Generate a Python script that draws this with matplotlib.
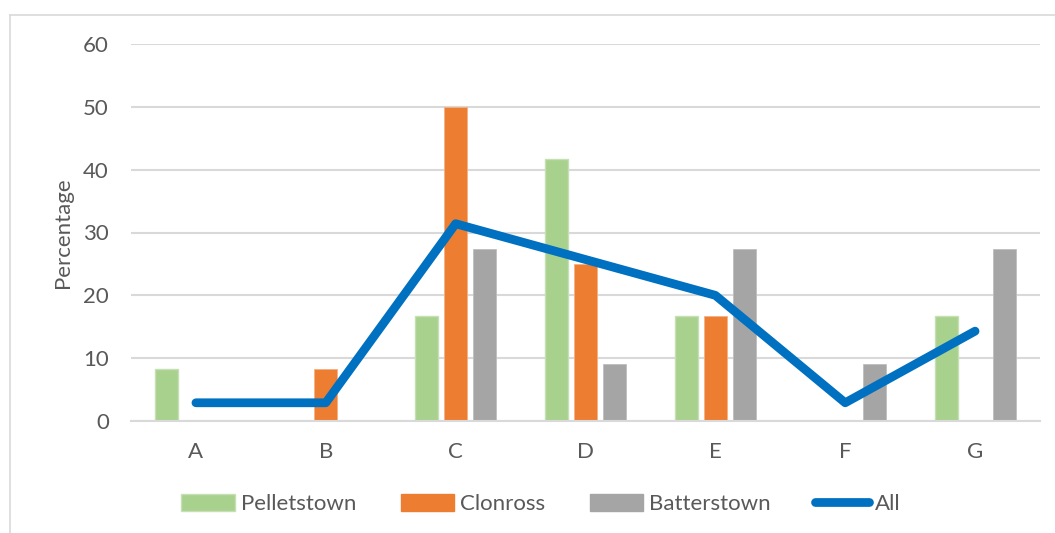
import matplotlib
matplotlib.use("Agg")
import matplotlib.pyplot as plt
import numpy as np
from matplotlib.patches import Patch
from matplotlib.lines import Line2D

categories = ["A", "B", "C", "D", "E", "F", "G"]
pelletstown = [8.3, 0, 16.7, 41.7, 16.7, 0, 16.7]
clonross = [0, 8.3, 50.0, 25.0, 16.7, 0, 0]
batterstown = [0, 0, 27.3, 9.1, 27.3, 9.1, 27.3]
all_sites = [2.9, 2.9, 31.4, 25.7, 20.0, 2.9, 14.3]
y_ticks = [0, 10, 20, 30, 40, 50, 60]

GREEN = "#A9D18E"
ORANGE = "#ED7D31"
GRAY = "#A5A5A5"
BLUE = "#0070C0"
TEXT = "#595959"
GRID = "#D9D9D9"

plt.rcParams["font.family"] = ["Lato", "DejaVu Sans"]

W, H = 1055, 533
fig = plt.figure(figsize=(W / 100, H / 100), dpi=100)
ax = fig.add_axes([131 / W, 112 / H, (1040 - 131) / W, (421 - 44) / H])

x = np.arange(len(categories))
step = 0.223
width = 0.177
ax.bar(x - step, pelletstown, width, color=GREEN, edgecolor="#C5E0B4", linewidth=1, zorder=2)
ax.bar(x, clonross, width, color=ORANGE, edgecolor="#F4B183", linewidth=0.6, zorder=2)
ax.bar(x + step, batterstown, width, color=GRAY, edgecolor="#BFBFBF", linewidth=0.6, zorder=2)
ax.plot(x, all_sites, color=BLUE, lw=6.3, solid_capstyle="round", solid_joinstyle="round", zorder=3)

ax.set_xlim(-0.5, len(categories) - 0.5)
ax.set_ylim(0, 60)
ax.set_yticks(y_ticks)
ax.set_xticks(x)
ax.set_xticklabels(categories)
ax.yaxis.grid(True, color=GRID, lw=1.5, zorder=0)
ax.set_axisbelow(True)
for s in ["top", "right", "left"]:
    ax.spines[s].set_visible(False)
ax.spines["bottom"].set_color(GRID)
ax.spines["bottom"].set_linewidth(1.5)
ax.tick_params(axis="both", length=0, colors=TEXT, labelsize=16)
ax.tick_params(axis="y", pad=16)
ax.tick_params(axis="x", pad=15)
ax.set_ylabel("Percentage", color=TEXT, fontsize=16, labelpad=7)

handles = [
    Patch(facecolor=GREEN, edgecolor="#C5E0B4", label="Pelletstown"),
    Patch(facecolor=ORANGE, edgecolor=ORANGE, label="Clonross"),
    Patch(facecolor=GRAY, edgecolor=GRAY, label="Batterstown"),
    Line2D([0], [0], color=BLUE, lw=6.3, solid_capstyle="round", label="All"),
]
leg = fig.legend(handles=handles, loc="center", bbox_to_anchor=(541 / W, 1 - 504 / H),
                 ncol=4, frameon=False, fontsize=16, handlelength=2.4, handleheight=0.8,
                 handletextpad=0.28, columnspacing=2.0)
for t in leg.get_texts():
    t.set_color(TEXT)

# light frame around the chart area
fig.add_artist(Line2D([10 / W, 10 / W], [0, 1 - 15 / H], color=GRID, lw=1.2))
fig.add_artist(Line2D([10 / W, 1], [1 - 15 / H, 1 - 15 / H], color=GRID, lw=1.2))

fig.savefig("out.png", dpi=100)
